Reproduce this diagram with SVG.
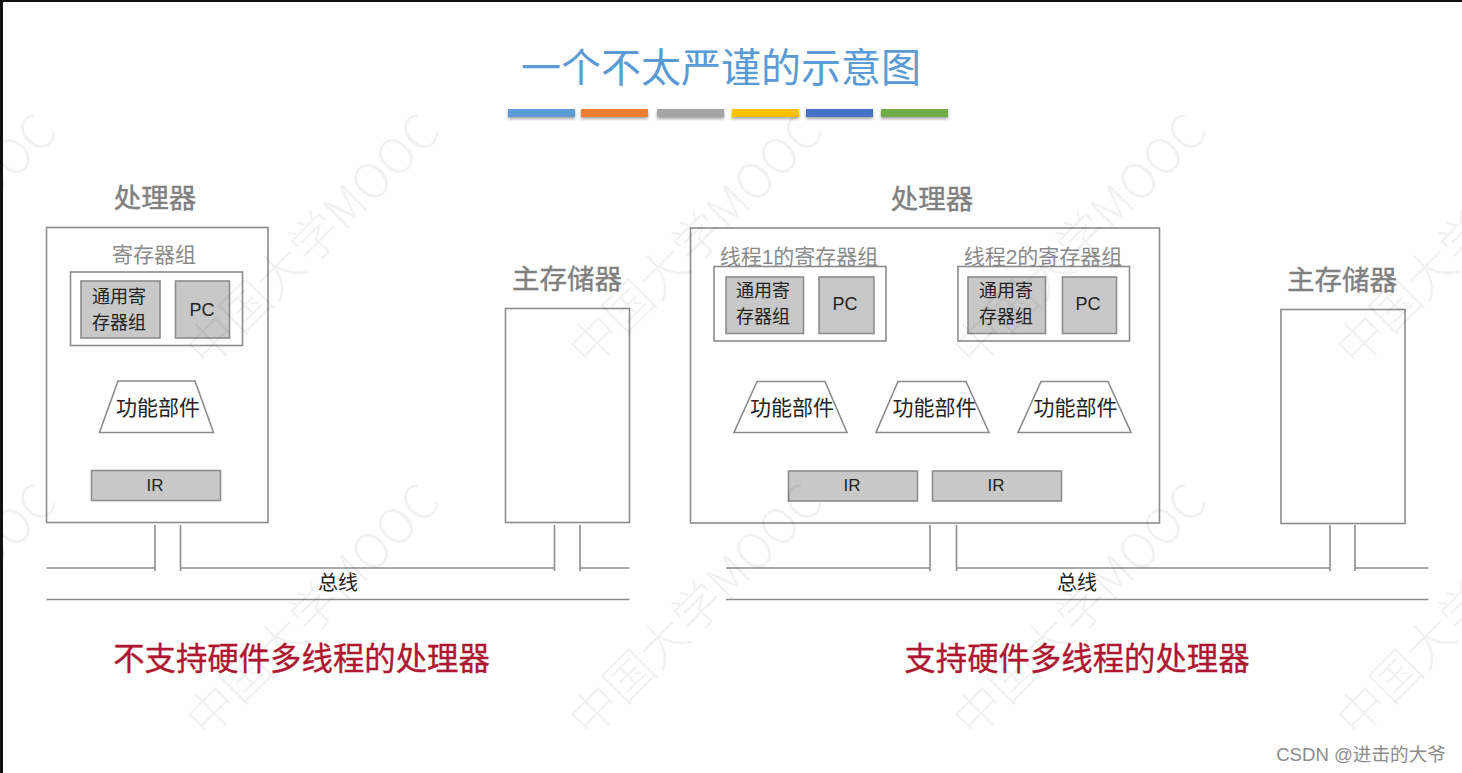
<svg xmlns="http://www.w3.org/2000/svg" width="1462" height="773" viewBox="0 0 1462 773">
<style>
text{font-family:"Liberation Sans","Noto Sans CJK SC",sans-serif}
.cjk{font-family:"Noto Sans CJK SC",sans-serif}
.wm{font-size:48.500px;fill:#000;fill-opacity:.055;font-family:"Noto Sans CJK SC",sans-serif;font-weight:300}
.s{fill:none;stroke:#8c8c8c;stroke-width:1.6}
.w{fill:#fff;stroke:#8c8c8c;stroke-width:1.6}
.g{fill:#c8c8c8;stroke:#8c8c8c;stroke-width:1.6}
.h1{font-size:27.500px;fill:#808080;stroke:#808080;stroke-width:.4;text-anchor:middle}
.h2{font-size:21px;fill:#8a8a8a;text-anchor:middle}
.k{fill:#222;text-anchor:middle}
.pc{font-size:18px}
.k16{font-size:18px}
.ir{font-size:17px}
.fn{font-size:21px}
.bus{font-size:20px}
.cap{font-size:31.400px;fill:#ae1730;stroke:#ae1730;stroke-width:.35;text-anchor:middle}
</style>
<defs>
<text id="wm" class="wm">中国大学MOOC</text>
<filter id="sh" x="-10%" y="-30%" width="120%" height="190%"><feDropShadow dx="0" dy="2" stdDeviation="1.5" flood-color="#000" flood-opacity="0.35"/></filter>
</defs>
<rect width="1462" height="773" fill="#fff"/>
<g id="frame"><rect width="1462" height="2" fill="#111"/><rect width="3" height="773" fill="#111"/></g>
<g id="title">
<text x="721" y="82" font-size="40" fill="#5b9bd5" text-anchor="middle" class="cjk">一个不太严谨的示意图</text>
<g filter="url(#sh)">
<rect x="508" y="109" width="67" height="8" fill="#5b9bd5"/>
<rect x="581" y="109" width="67" height="8" fill="#ed7d31"/>
<rect x="657" y="109" width="67" height="8" fill="#a5a5a5"/>
<rect x="732" y="109" width="67" height="8" fill="#ffc000"/>
<rect x="806" y="109" width="67" height="8" fill="#4472c4"/>
<rect x="881" y="109" width="67" height="8" fill="#70ad47"/>
</g>
</g>
<g id="connectors">
<path class="s" d="M46.500 568H155M155 525V571M180.500 525V571M180.500 568H554.500M554.500 525V571M580 525V571M580 568H629.500M46.500 599.500H629.500"/>
<path class="s" d="M726 568H930M930 525V571M956.500 525V571M956.500 568H1330M1330 525V571M1355 525V571M1355 568H1428.500M726 599.500H1428.500"/>
</g>
<g id="left-processor">
<text x="155" y="208" class="h1">处理器</text>
<rect class="w" x="46.500" y="227.500" width="221.500" height="295"/>
<text x="154" y="262" class="h2">寄存器组</text>
<rect class="w" x="70.500" y="272" width="172" height="73.500"/>
<rect class="g" x="81" y="281" width="79" height="57"/>
<text x="119" y="303" class="k k16">通用寄</text>
<text x="119" y="329" class="k k16">存器组</text>
<rect class="g" x="175.500" y="281" width="54" height="57"/>
<text x="202" y="316" class="k pc">PC</text>
<polygon class="w" points="118,381 195,381 213.500,432.500 99.500,432.500"/>
<text x="158" y="415" class="k fn">功能部件</text>
<rect class="g" x="91.500" y="470.500" width="129" height="30"/>
<text x="155" y="491" class="k ir">IR</text>
</g>
<g id="left-memory">
<text x="567" y="289" class="h1">主存储器</text>
<rect class="w" x="505.500" y="308.500" width="124" height="214"/>
</g>
<text id="left-bus" x="338" y="590" class="k bus">总线</text>
<text id="left-caption" x="301.500" y="670" class="cap">不支持硬件多线程的处理器</text>
<g id="right-processor">
<text x="932" y="209" class="h1">处理器</text>
<rect class="w" x="690.500" y="228" width="469" height="295"/>
<text x="799" y="264" class="h2">线程1的寄存器组</text>
<text x="1043" y="264" class="h2">线程2的寄存器组</text>
<rect class="w" x="714" y="266.500" width="172" height="74.500"/>
<rect class="g" x="726" y="277" width="77.500" height="56.500"/>
<text x="763" y="297" class="k k16">通用寄</text>
<text x="763" y="323" class="k k16">存器组</text>
<rect class="g" x="819" y="277" width="55" height="56.500"/>
<text x="845" y="310" class="k pc">PC</text>
<rect class="w" x="958" y="266.500" width="171.500" height="74.500"/>
<rect class="g" x="968" y="277" width="77.500" height="56.500"/>
<text x="1006" y="297" class="k k16">通用寄</text>
<text x="1006" y="323" class="k k16">存器组</text>
<rect class="g" x="1062.500" y="277" width="54" height="56.500"/>
<text x="1088" y="310" class="k pc">PC</text>
<polygon class="w" points="757,381.500 825,381.500 847,432.500 734,432.500"/>
<text x="792" y="415" class="k fn">功能部件</text>
<polygon class="w" points="898,381.500 966,381.500 989,432.500 876,432.500"/>
<text x="934.500" y="415" class="k fn">功能部件</text>
<polygon class="w" points="1041,381.500 1108,381.500 1131,432.500 1018,432.500"/>
<text x="1075.500" y="415" class="k fn">功能部件</text>
<rect class="g" x="788.500" y="471" width="129" height="30"/>
<text x="852" y="491" class="k ir">IR</text>
<rect class="g" x="932.500" y="471" width="129" height="30"/>
<text x="996" y="491" class="k ir">IR</text>
</g>
<g id="right-memory">
<text x="1342" y="290" class="h1">主存储器</text>
<rect class="w" x="1281" y="309.500" width="124" height="214"/>
</g>
<text id="right-bus" x="1077" y="590" class="k bus">总线</text>
<text id="right-caption" x="1077" y="670" class="cap">支持硬件多线程的处理器</text>
<text id="credit" x="1361" y="761" font-size="18.600" fill="#8c8c8c" text-anchor="middle">CSDN @进击的大爷</text>
<g id="watermarks">
<use href="#wm" transform="translate(-176,370) rotate(-45)"/>
<use href="#wm" transform="translate(207,370) rotate(-45)"/>
<use href="#wm" transform="translate(590,370) rotate(-45)"/>
<use href="#wm" transform="translate(974,370) rotate(-45)"/>
<use href="#wm" transform="translate(1357,370) rotate(-45)"/>
<use href="#wm" transform="translate(-176,740) rotate(-45)"/>
<use href="#wm" transform="translate(207,740) rotate(-45)"/>
<use href="#wm" transform="translate(590,740) rotate(-45)"/>
<use href="#wm" transform="translate(974,740) rotate(-45)"/>
<use href="#wm" transform="translate(1357,740) rotate(-45)"/>
</g>
</svg>
